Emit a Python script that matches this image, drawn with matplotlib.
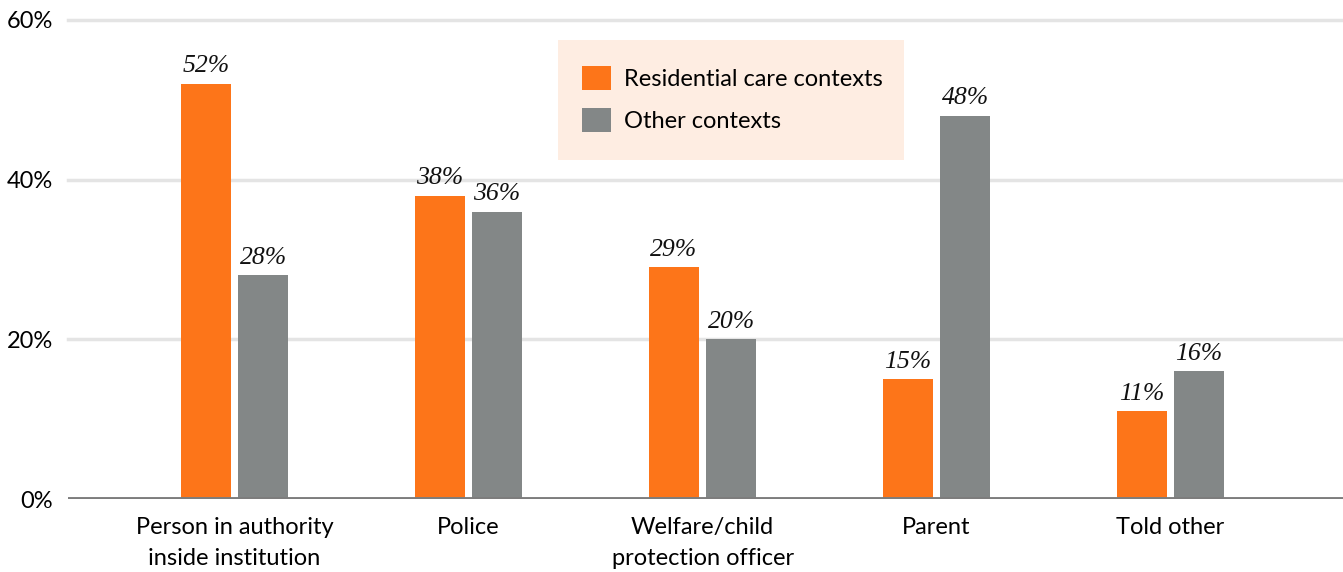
import numpy as np
import matplotlib.pyplot as plt
from matplotlib.patches import Rectangle

categories = ['Person in authority\ninside institution', 'Police',
              'Welfare/child\nprotection officer', 'Parent', 'Told other']
residential = [52, 38, 29, 15, 11]
other = [28, 36, 20, 48, 16]
series_names = ['Residential care contexts', 'Other contexts']
yticks = [0, 20, 40, 60]

orange = '#fd7519'
grey = '#838787'

plt.rcParams['font.family'] = ['Lato', 'DejaVu Sans']

fig = plt.figure(figsize=(13.43, 5.72), dpi=100)
ax = fig.add_axes([68 / 1343, 1 - 499 / 572, 1275 / 1343, 479 / 572])

x = np.arange(len(categories))
w = 0.214
off = 0.122
b1 = ax.bar(x - off, residential, w, color=orange, label=series_names[0], zorder=3)
b2 = ax.bar(x + off, other, w, color=grey, label=series_names[1], zorder=3)

for bars, vals in ((b1, residential), (b2, other)):
    for rect, v in zip(bars, vals):
        ax.text(rect.get_x() + rect.get_width() / 2, v + 0.8, f'{v}%',
                ha='center', va='bottom', fontsize=18.5, style='italic',
                family='Liberation Serif', color='#111111')

ax.set_xlim(-0.712, 4.737)
ax.set_ylim(0, 60)
ax.set_yticks(yticks)
ax.set_yticklabels([f'{t}%' for t in yticks], fontsize=17)
ax.set_xticks(x)
ax.set_xticklabels(categories, fontsize=17, linespacing=1.6)
ax.tick_params(length=0, pad=13)
ax.tick_params(axis='y', pad=11)

for t in yticks[1:]:
    ax.axhline(t, color='#e4e4e4', lw=2.5, zorder=1, clip_on=False)
ax.axhline(0, color='#7d7d7d', lw=2.8, zorder=4)
for s in ax.spines.values():
    s.set_visible(False)

# legend panel
ax.add_patch(Rectangle((0.384, 0.708), 0.272, 0.25, transform=ax.transAxes,
                       facecolor='#feede2', edgecolor='none', zorder=2))
leg = ax.legend(loc='upper left', bbox_to_anchor=(0.396, 0.924), frameon=False,
                fontsize=17, handlelength=1.2, handleheight=1.2,
                handletextpad=0.55, labelspacing=0.74, borderaxespad=0)

fig.savefig('out.png', dpi=100)
